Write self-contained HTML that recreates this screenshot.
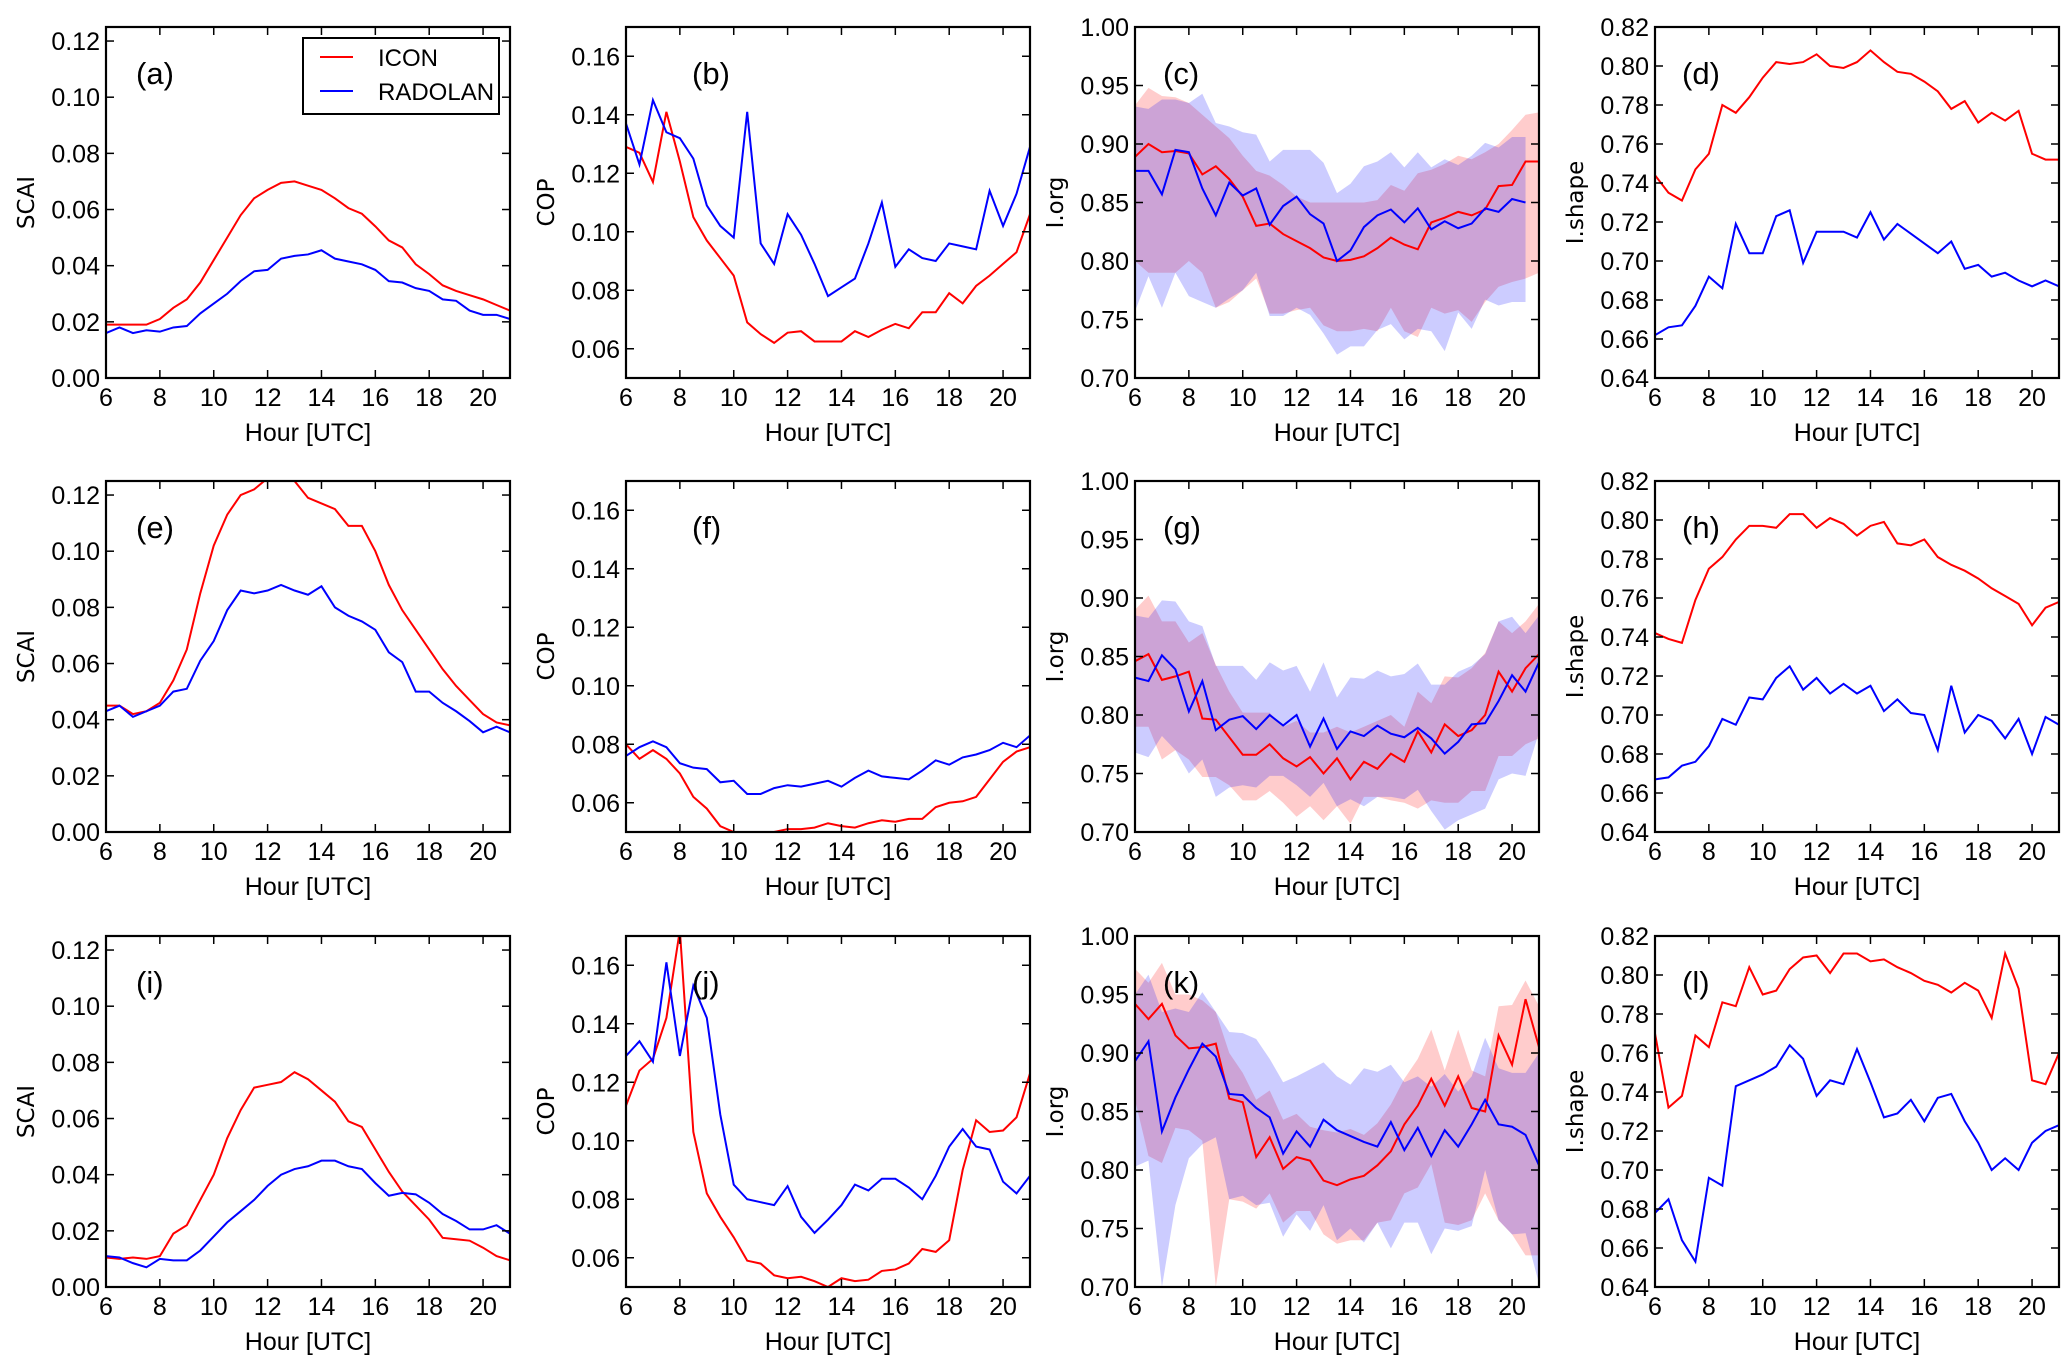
<!DOCTYPE html>
<html><head><meta charset="utf-8">
<style>
html,body{margin:0;padding:0;background:#fff;}
svg{display:block;font-family:"Liberation Sans",sans-serif;}
</style></head>
<body>
<svg id="fig" width="2067" height="1366" viewBox="0 0 2067 1366" xmlns="http://www.w3.org/2000/svg"></svg>
<script>
const hours = [6,6.5,7,7.5,8,8.5,9,9.5,10,10.5,11,11.5,12,12.5,13,13.5,14,14.5,15,15.5,16,16.5,17,17.5,18,18.5,19,19.5,20,20.5,21];
const xTicks = [6,8,10,12,14,16,18,20];
const scaiTicks = [0,0.02,0.04,0.06,0.08,0.10,0.12];
const copTicks = [0.06,0.08,0.10,0.12,0.14,0.16];
const iorgTicks = [0.70,0.75,0.80,0.85,0.90,0.95,1.00];
const ishapeTicks = [0.64,0.66,0.68,0.70,0.72,0.74,0.76,0.78,0.80,0.82];

const aIcon = [0.019,0.019,0.019,0.019,0.021,0.025,0.028,0.034,0.042,0.050,0.058,0.064,0.067,0.0695,0.070,0.0685,0.067,0.064,0.0605,0.0585,0.054,0.049,0.0465,0.0405,0.037,0.033,0.031,0.0295,0.028,0.026,0.024];
const aRad = [0.016,0.018,0.016,0.017,0.0165,0.018,0.0185,0.023,0.0265,0.030,0.0345,0.038,0.0385,0.0425,0.0435,0.044,0.0455,0.0425,0.0415,0.0405,0.0385,0.0345,0.034,0.032,0.031,0.028,0.0275,0.024,0.0225,0.0225,0.021];
const bIcon = [0.129,0.127,0.117,0.141,0.124,0.105,0.097,0.091,0.085,0.069,0.065,0.062,0.0655,0.066,0.0625,0.0625,0.0625,0.066,0.064,0.0665,0.0685,0.067,0.0725,0.0725,0.079,0.0755,0.0815,0.085,0.089,0.093,0.106];
const bRad = [0.137,0.123,0.145,0.134,0.132,0.125,0.109,0.102,0.098,0.141,0.096,0.089,0.106,0.099,0.089,0.078,0.081,0.084,0.096,0.110,0.088,0.094,0.091,0.090,0.096,0.095,0.094,0.114,0.102,0.113,0.129];
const cIcon = [0.889,0.900,0.893,0.894,0.892,0.874,0.881,0.870,0.855,0.830,0.832,0.823,0.817,0.811,0.803,0.800,0.801,0.804,0.811,0.820,0.814,0.810,0.833,0.837,0.842,0.839,0.844,0.864,0.865,0.885,0.885];
const cRad = [0.877,0.877,0.857,0.895,0.893,0.862,0.839,0.867,0.856,0.862,0.831,0.847,0.855,0.840,0.832,0.800,0.809,0.829,0.839,0.844,0.833,0.845,0.827,0.834,0.828,0.832,0.845,0.842,0.853,0.850];
const cIconHi = [0.933,0.948,0.941,0.940,0.935,0.925,0.915,0.905,0.890,0.877,0.873,0.865,0.855,0.850,0.850,0.850,0.850,0.850,0.852,0.865,0.860,0.875,0.878,0.883,0.890,0.887,0.893,0.900,0.912,0.925,0.927];
const cIconLo = [0.80,0.79,0.79,0.79,0.80,0.79,0.76,0.765,0.775,0.785,0.755,0.755,0.758,0.760,0.745,0.74,0.74,0.742,0.74,0.76,0.74,0.735,0.76,0.755,0.758,0.748,0.765,0.778,0.782,0.785,0.79];
const cRadHi = [0.932,0.930,0.938,0.938,0.935,0.943,0.918,0.915,0.910,0.908,0.885,0.895,0.895,0.895,0.884,0.858,0.866,0.881,0.885,0.893,0.880,0.893,0.880,0.887,0.882,0.890,0.901,0.897,0.906,0.906];
const cRadLo = [0.757,0.787,0.760,0.790,0.770,0.765,0.760,0.768,0.775,0.790,0.753,0.753,0.760,0.754,0.738,0.720,0.727,0.727,0.741,0.746,0.733,0.742,0.740,0.723,0.756,0.742,0.767,0.762,0.765,0.765];
const dIcon = [0.744,0.735,0.731,0.747,0.755,0.780,0.776,0.784,0.794,0.802,0.801,0.802,0.806,0.800,0.799,0.802,0.808,0.802,0.797,0.796,0.792,0.787,0.778,0.782,0.771,0.776,0.772,0.777,0.755,0.752,0.752];
const dRad = [0.662,0.666,0.667,0.677,0.692,0.686,0.719,0.704,0.704,0.723,0.726,0.699,0.715,0.715,0.715,0.712,0.725,0.711,0.719,0.714,0.709,0.704,0.710,0.696,0.698,0.692,0.694,0.690,0.687,0.690,0.687];
const eIcon = [0.045,0.045,0.042,0.043,0.046,0.054,0.065,0.085,0.102,0.113,0.120,0.122,0.126,0.127,0.125,0.119,0.117,0.115,0.109,0.109,0.100,0.088,0.079,0.072,0.065,0.058,0.052,0.047,0.042,0.039,0.038];
const eRad = [0.043,0.045,0.041,0.043,0.045,0.050,0.051,0.061,0.068,0.079,0.086,0.085,0.086,0.088,0.086,0.0845,0.0875,0.080,0.077,0.075,0.072,0.064,0.0605,0.050,0.050,0.046,0.043,0.0395,0.0355,0.0375,0.0355];
const fIcon = [0.080,0.075,0.078,0.075,0.070,0.062,0.058,0.052,0.050,0.049,0.049,0.050,0.051,0.051,0.0515,0.053,0.052,0.0515,0.053,0.054,0.0535,0.0545,0.0545,0.0585,0.060,0.0605,0.062,0.068,0.074,0.0775,0.079];
const fRad = [0.076,0.079,0.081,0.079,0.0735,0.072,0.0715,0.067,0.0675,0.063,0.063,0.065,0.066,0.0655,0.0665,0.0675,0.0655,0.0685,0.071,0.069,0.0685,0.068,0.071,0.0745,0.073,0.0755,0.0765,0.078,0.0805,0.079,0.083];
const gIcon = [0.846,0.852,0.830,0.833,0.837,0.797,0.796,0.781,0.766,0.766,0.775,0.763,0.756,0.764,0.750,0.763,0.745,0.760,0.754,0.767,0.760,0.786,0.768,0.792,0.782,0.787,0.800,0.837,0.820,0.840,0.852];
const gRad = [0.832,0.829,0.851,0.839,0.803,0.829,0.787,0.796,0.799,0.788,0.800,0.791,0.800,0.773,0.797,0.771,0.786,0.782,0.791,0.784,0.781,0.789,0.780,0.767,0.777,0.792,0.793,0.812,0.834,0.820,0.845];
const gIconHi = [0.890,0.902,0.880,0.880,0.862,0.870,0.843,0.820,0.802,0.802,0.802,0.790,0.795,0.785,0.785,0.790,0.785,0.790,0.795,0.800,0.790,0.820,0.810,0.833,0.832,0.840,0.853,0.880,0.870,0.880,0.895];
const gIconLo = [0.790,0.790,0.762,0.770,0.762,0.747,0.747,0.740,0.727,0.727,0.735,0.725,0.713,0.722,0.710,0.722,0.707,0.730,0.730,0.727,0.725,0.720,0.727,0.725,0.725,0.735,0.735,0.765,0.765,0.775,0.780];
const gRadHi = [0.885,0.883,0.898,0.897,0.880,0.876,0.842,0.842,0.842,0.830,0.845,0.838,0.842,0.820,0.845,0.815,0.832,0.831,0.838,0.833,0.835,0.844,0.826,0.826,0.837,0.842,0.852,0.880,0.884,0.870,0.885];
const gRadLo = [0.768,0.764,0.782,0.770,0.750,0.762,0.730,0.738,0.740,0.738,0.748,0.748,0.740,0.730,0.742,0.722,0.728,0.722,0.730,0.730,0.728,0.736,0.718,0.702,0.710,0.715,0.720,0.745,0.750,0.748,0.785];
const hIcon = [0.742,0.739,0.737,0.759,0.775,0.781,0.790,0.797,0.797,0.796,0.803,0.803,0.796,0.801,0.798,0.792,0.797,0.799,0.788,0.787,0.790,0.781,0.777,0.774,0.770,0.765,0.761,0.757,0.746,0.755,0.758];
const hRad = [0.667,0.668,0.674,0.676,0.684,0.698,0.695,0.709,0.708,0.719,0.725,0.713,0.719,0.711,0.716,0.711,0.715,0.702,0.708,0.701,0.700,0.682,0.715,0.691,0.700,0.697,0.688,0.698,0.680,0.699,0.695];
const iIcon = [0.0105,0.010,0.0105,0.010,0.011,0.019,0.022,0.031,0.040,0.053,0.063,0.071,0.072,0.073,0.0765,0.074,0.070,0.066,0.059,0.057,0.049,0.041,0.034,0.029,0.024,0.0175,0.017,0.0165,0.014,0.011,0.0095];
const iRad = [0.011,0.0105,0.0085,0.007,0.0100,0.0095,0.0095,0.013,0.018,0.023,0.027,0.031,0.036,0.040,0.042,0.043,0.045,0.045,0.043,0.042,0.037,0.0325,0.0335,0.033,0.030,0.026,0.0235,0.0205,0.0205,0.022,0.019];
const jIcon = [0.112,0.124,0.128,0.142,0.172,0.103,0.082,0.074,0.067,0.059,0.058,0.054,0.053,0.0535,0.052,0.050,0.053,0.052,0.0525,0.0555,0.056,0.058,0.063,0.062,0.066,0.090,0.107,0.103,0.1035,0.108,0.123];
const jRad = [0.129,0.134,0.127,0.161,0.129,0.153,0.142,0.109,0.085,0.080,0.079,0.078,0.0845,0.074,0.0685,0.073,0.078,0.085,0.083,0.087,0.087,0.084,0.080,0.088,0.098,0.104,0.098,0.097,0.086,0.082,0.088];
const kIcon = [0.942,0.929,0.942,0.915,0.904,0.905,0.908,0.861,0.858,0.811,0.828,0.801,0.811,0.808,0.791,0.787,0.792,0.795,0.804,0.816,0.839,0.855,0.878,0.855,0.880,0.853,0.850,0.915,0.890,0.946,0.905];
const kRad = [0.893,0.910,0.833,0.862,0.886,0.908,0.897,0.865,0.864,0.853,0.845,0.814,0.833,0.820,0.843,0.834,0.829,0.824,0.820,0.841,0.817,0.836,0.812,0.834,0.820,0.839,0.860,0.839,0.837,0.830,0.804];
const kIconHi = [0.972,0.960,0.977,0.950,0.950,0.945,0.935,0.900,0.883,0.860,0.868,0.843,0.848,0.837,0.834,0.832,0.835,0.830,0.840,0.856,0.878,0.895,0.920,0.885,0.920,0.885,0.880,0.940,0.941,0.962,0.940];
const kIconLo = [0.860,0.812,0.806,0.836,0.834,0.825,0.700,0.775,0.773,0.767,0.780,0.755,0.765,0.765,0.745,0.737,0.740,0.740,0.755,0.757,0.780,0.785,0.805,0.755,0.753,0.757,0.780,0.757,0.745,0.727,0.727];
const kRadHi = [0.950,0.967,0.935,0.938,0.935,0.952,0.935,0.918,0.917,0.912,0.895,0.875,0.880,0.886,0.892,0.880,0.873,0.887,0.884,0.890,0.875,0.880,0.871,0.882,0.867,0.880,0.913,0.887,0.883,0.883,0.900];
const kRadLo = [0.803,0.808,0.700,0.770,0.810,0.822,0.828,0.775,0.778,0.770,0.772,0.743,0.762,0.748,0.770,0.740,0.750,0.738,0.755,0.733,0.755,0.755,0.728,0.750,0.748,0.752,0.800,0.757,0.745,0.746,0.703];
const lIcon = [0.770,0.732,0.738,0.769,0.763,0.786,0.784,0.804,0.790,0.792,0.803,0.809,0.810,0.801,0.811,0.811,0.807,0.808,0.804,0.801,0.797,0.795,0.791,0.796,0.792,0.778,0.811,0.793,0.746,0.744,0.760];
const lRad = [0.678,0.685,0.664,0.653,0.696,0.692,0.743,0.746,0.749,0.753,0.764,0.757,0.738,0.746,0.744,0.762,0.745,0.727,0.729,0.736,0.725,0.737,0.739,0.725,0.714,0.700,0.706,0.700,0.714,0.720,0.723];

const NS = "http://www.w3.org/2000/svg";
const svg = document.getElementById('fig');
function mk(tag, attrs, parent){
  const e = document.createElementNS(NS, tag);
  for (const k in attrs) e.setAttribute(k, attrs[k]);
  (parent||svg).appendChild(e);
  return e;
}
const colX = [106, 626, 1135, 1655];
const rowY = [27, 481, 936];
const labelOff = [30, 66, 28, 27];
const W = 404, H = 351;
const types = {
  scai:{min:0,max:0.125,ticks:scaiTicks,label:'SCAI'},
  cop:{min:0.05,max:0.17,ticks:copTicks,label:'COP'},
  iorg:{min:0.70,max:1.00,ticks:iorgTicks,label:'I.org'},
  ishape:{min:0.64,max:0.82,ticks:ishapeTicks,label:'I.shape'}
};
const panels = [
  {id:'a',r:0,c:0,t:'scai',icon:aIcon,rad:aRad,legend:true},
  {id:'b',r:0,c:1,t:'cop',icon:bIcon,rad:bRad},
  {id:'c',r:0,c:2,t:'iorg',icon:cIcon,rad:cRad,band:[cIconLo,cIconHi,cRadLo,cRadHi]},
  {id:'d',r:0,c:3,t:'ishape',icon:dIcon,rad:dRad},
  {id:'e',r:1,c:0,t:'scai',icon:eIcon,rad:eRad},
  {id:'f',r:1,c:1,t:'cop',icon:fIcon,rad:fRad},
  {id:'g',r:1,c:2,t:'iorg',icon:gIcon,rad:gRad,band:[gIconLo,gIconHi,gRadLo,gRadHi]},
  {id:'h',r:1,c:3,t:'ishape',icon:hIcon,rad:hRad},
  {id:'i',r:2,c:0,t:'scai',icon:iIcon,rad:iRad},
  {id:'j',r:2,c:1,t:'cop',icon:jIcon,rad:jRad},
  {id:'k',r:2,c:2,t:'iorg',icon:kIcon,rad:kRad,band:[kIconLo,kIconHi,kRadLo,kRadHi]},
  {id:'l',r:2,c:3,t:'ishape',icon:lIcon,rad:lRad}
];
const defs = mk('defs',{});
panels.forEach(p=>{
  const x0 = colX[p.c], y0 = rowY[p.r], T = types[p.t];
  const xs = v => x0 + (v-6)/(21-6)*W;
  const ys = v => y0 + H - (v-T.min)/(T.max-T.min)*H;
  const cp = mk('clipPath',{id:'clip-'+p.id}, defs);
  mk('rect',{x:x0,y:y0,width:W,height:H}, cp);
  const g = mk('g',{});
  
  
  const plot = mk('g',{'clip-path':'url(#clip-'+p.id+')'}, g);
  if (p.band){
    const mkBand = (lo,hi,color,name)=>{
      const n = Math.min(lo.length, hi.length);
      let pts = [];
      for (let i=0;i<n;i++) pts.push(xs(hours[i])+','+ys(hi[i]));
      for (let i=n-1;i>=0;i--) pts.push(xs(hours[i])+','+ys(lo[i]));
      const b = mk('polygon',{points:pts.join(' '),fill:color,'fill-opacity':0.2,stroke:'none'}, plot);
      
      
    };
    mkBand(p.band[0],p.band[1],'#ff0000','icon-range-band');
    mkBand(p.band[2],p.band[3],'#0000ff','radolan-range-band');
  }
  const mkLine = (vals,color,name)=>{
    const l = mk('polyline',{points:vals.map((v,i)=>xs(hours[i])+','+ys(v)).join(' '),fill:'none',stroke:color,'stroke-width':2,'stroke-linejoin':'miter'}, plot);
    
    
  };
  mkLine(p.icon,'#ff0000','icon-line');
  mkLine(p.rad,'#0000ff','radolan-line');
  const fr = mk('rect',{x:x0,y:y0,width:W,height:H,fill:'none',stroke:'#000','stroke-width':2.2}, g);
  
  
  xTicks.forEach(v=>{
    const X = xs(v);
    mk('line',{x1:X,y1:y0+H,x2:X,y2:y0+H-8,stroke:'#000','stroke-width':1.5}, g);
    mk('line',{x1:X,y1:y0,x2:X,y2:y0+8,stroke:'#000','stroke-width':1.5}, g);
    const t = mk('text',{x:X,y:y0+H+28,'text-anchor':'middle','font-size':25,fill:'#000'}, g);
    t.textContent = v;
    
    
  });
  T.ticks.forEach(v=>{
    const Y = ys(v);
    mk('line',{x1:x0,y1:Y,x2:x0+8,y2:Y,stroke:'#000','stroke-width':1.5}, g);
    mk('line',{x1:x0+W,y1:Y,x2:x0+W-8,y2:Y,stroke:'#000','stroke-width':1.5}, g);
    const t = mk('text',{x:x0-6,y:Y+9,'text-anchor':'end','font-size':25,fill:'#000'}, g);
    t.textContent = v.toFixed(2);
    
    
  });
  const xl = mk('text',{x:x0+W/2,y:y0+H+63,'text-anchor':'middle','font-size':25,fill:'#000'}, g);
  xl.textContent = 'Hour [UTC]';
  
  
  const lx = x0-72, ly = y0+H/2;
  const yl = mk('text',{x:lx,y:ly,'text-anchor':'middle','font-size':23,'font-family':'DejaVu Sans, sans-serif',fill:'#000',transform:'rotate(-90 '+lx+' '+ly+')'}, g);
  yl.textContent = T.label;
  
  
  const pl = mk('text',{x:x0+labelOff[p.c],y:y0+57,'font-size':31,fill:'#000'}, g);
  pl.textContent = '('+p.id+')';
  
  
  if (p.legend){
    const lg = mk('g',{}, g);
    
    
    mk('rect',{x:303,y:38,width:196,height:76,fill:'#fff',stroke:'#000','stroke-width':2}, lg);
    mk('line',{x1:320,y1:57,x2:353,y2:57,stroke:'#ff0000','stroke-width':2}, lg);
    mk('line',{x1:320,y1:91,x2:353,y2:91,stroke:'#0000ff','stroke-width':2}, lg);
    const t1 = mk('text',{x:378,y:66,'font-size':24,fill:'#000'}, lg);
    t1.textContent = 'ICON';
    
    
    const t2 = mk('text',{x:378,y:100,'font-size':24,fill:'#000'}, lg);
    t2.textContent = 'RADOLAN';
    
    
  }
});
</script>
</body></html>
